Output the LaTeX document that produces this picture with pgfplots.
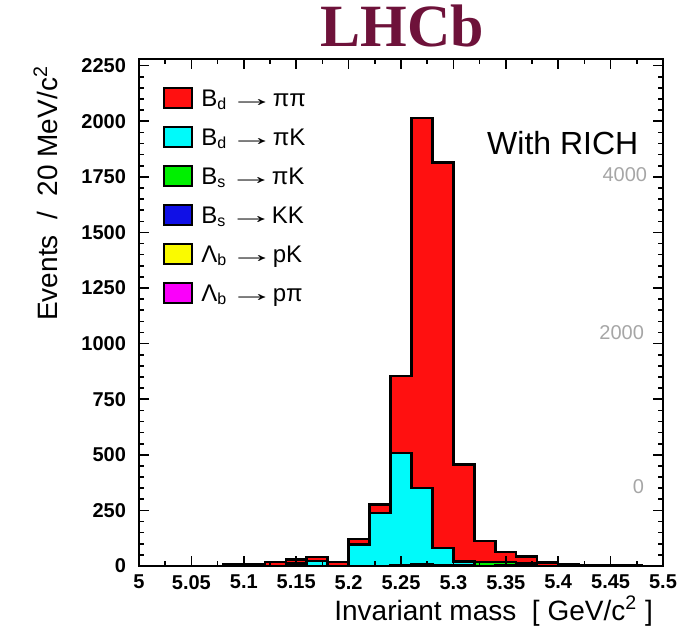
\documentclass[border=0pt]{standalone}
\usepackage{fontspec}
\setmainfont{Liberation Sans}
\newfontfamily\titlefont{Liberation Serif}
\usepackage{pgfplots}
\pgfplotsset{compat=1.18}

\definecolor{hred}{RGB}{255,16,16}
\definecolor{hcyan}{RGB}{0,250,250}
\definecolor{hgreen}{RGB}{0,240,0}
\definecolor{hblue}{RGB}{16,16,230}
\definecolor{hyellow}{RGB}{250,250,0}
\definecolor{hmagenta}{RGB}{250,0,250}
\definecolor{lhcbmaroon}{RGB}{110,18,58}

\newcommand{\arr}{\kern1pt\scalebox{1.9}[1]{\bfseries →}\kern-1pt}

% cumulative stacks, one value per 20 MeV bin (left edge)
\pgfplotstableread{
x y
5.00 0
5.02 0
5.04 0
5.06 0
5.08 8
5.10 10
5.12 18
5.14 30
5.16 40
5.18 18
5.20 122
5.22 277
5.24 855
5.26 2015
5.28 1814
5.30 456
5.32 112
5.34 63
5.36 42
5.38 15
5.40 6
5.42 5
5.44 5
5.46 4
5.48 0
5.50 0
}\bdpipi
\pgfplotstableread{
x y
5.00 0
5.12 0
5.14 12
5.16 22
5.18 0
5.20 96
5.22 238
5.24 507
5.26 350
5.28 80
5.30 20
5.32 18
5.34 18
5.36 12
5.38 0
5.50 0
}\bdpik
\pgfplotstableread{
x y
5.00 0
5.28 2
5.30 3
5.32 18
5.34 18
5.36 12
5.38 0
5.50 0
}\bspik
\pgfplotstableread{
x y
5.00 0
5.24 4
5.26 8
5.28 5
5.30 0
5.34 3
5.36 0
5.50 0
}\bskk
\pgfplotstableread{
x y
5.00 0
5.26 3
5.28 0
5.50 0
}\lbpk
\pgfplotstableread{
x y
5.00 0
5.26 2
5.28 0
5.50 0
}\lbppi

\begin{document}
\begin{tikzpicture}[x=1pt,y=1pt]
\useasboundingbox (0,0) rectangle (344,315.5);
\begin{axis}[
    at={(69.5pt,32.5pt)}, anchor=south west,
    scale only axis, width=262pt, height=253.5pt,
    xmin=5, xmax=5.5, ymin=0, ymax=2280,
    axis on top,
    axis line style={line width=1pt},
    tick align=inside,
    major tick length=5pt, minor tick length=2.5pt,
    every tick/.style={black, line width=0.8pt},
    xtick={5,5.05,5.1,5.15,5.2,5.25,5.3,5.35,5.4,5.45,5.5},
    xticklabels={5,5.05,5.1,5.15,5.2,5.25,5.3,5.35,5.4,5.45,5.5},
    minor x tick num=1,
    ytick={0,250,...,2250},
    minor y tick num=4,
    /pgf/number format/assume math mode=true,
    /pgf/number format/1000 sep={},
    tick label style={font=\fontsize{10}{12}\selectfont\bfseries},
    xticklabel style={yshift=-1pt},
    yticklabel style={xshift=-3pt},
    xlabel={Invariant mass \ [ GeV/c\textsuperscript{2} ]},
    xlabel style={font=\fontsize{14}{17}\selectfont, at={(axis description cs:0.994,-0.1065)}, anchor=base east},
    ylabel={Events \ / \ 20 MeV/c\textsuperscript{2}},
    ylabel style={font=\fontsize{14}{17}\selectfont, at={(axis description cs:-0.178,1)}, anchor=east},
    title={LHCb},
    title style={font=\titlefont\bfseries\fontsize{30}{34}\selectfont, text=lhcbmaroon, at={(axis description cs:0.502,1.024)}, anchor=base, yshift=-6pt},
    legend style={at={(axis description cs:0.034,0.955)}, anchor=north west, draw=none, fill=none,
        font=\fontsize{12}{14}\selectfont, row sep=0pt, cells={anchor=west},
        nodes={inner sep=0pt, text height=10pt, text depth=9.5pt}},
    legend image code/.code={\draw[#1, line width=0.9pt] (0pt,-1pt) rectangle (14pt,9pt); \path (18pt,0pt);},
]
\addplot[const plot mark left, fill=hred, draw=black, line width=1.2pt] table {\bdpipi} \closedcycle;
\addplot[const plot mark left, fill=hcyan, draw=black, line width=1.2pt] table {\bdpik} \closedcycle;
\addplot[const plot mark left, fill=hgreen, draw=black, line width=1.2pt] table {\bspik} \closedcycle;
\addplot[const plot mark left, fill=hblue, draw=black, line width=1.2pt] table {\bskk} \closedcycle;
\addplot[const plot mark left, fill=hyellow, draw=black, line width=1.2pt] table {\lbpk} \closedcycle;
\addplot[const plot mark left, fill=hmagenta, draw=black, line width=1.2pt] table {\lbppi} \closedcycle;
\legend{B\textsubscript{d}\arr ππ, B\textsubscript{d}\arr πK, B\textsubscript{s}\arr πK, B\textsubscript{s}\arr KK, Λ\textsubscript{b}\arr pK, Λ\textsubscript{b}\arr pπ}
\node[anchor=base west, font=\fontsize{16}{19}\selectfont] at (axis description cs:0.651,0.8107) {With RICH};
\node[anchor=east, font=\fontsize{10}{12}\selectfont, text=gray!70] at (axis description cs:0.983,0.771) {4000};
\node[anchor=east, font=\fontsize{10}{12}\selectfont, text=gray!70] at (axis description cs:0.977,0.4596) {2000};
\node[anchor=east, font=\fontsize{10}{12}\selectfont, text=gray!70] at (axis description cs:0.977,0.156) {0};
\end{axis}
\end{tikzpicture}
\end{document}
